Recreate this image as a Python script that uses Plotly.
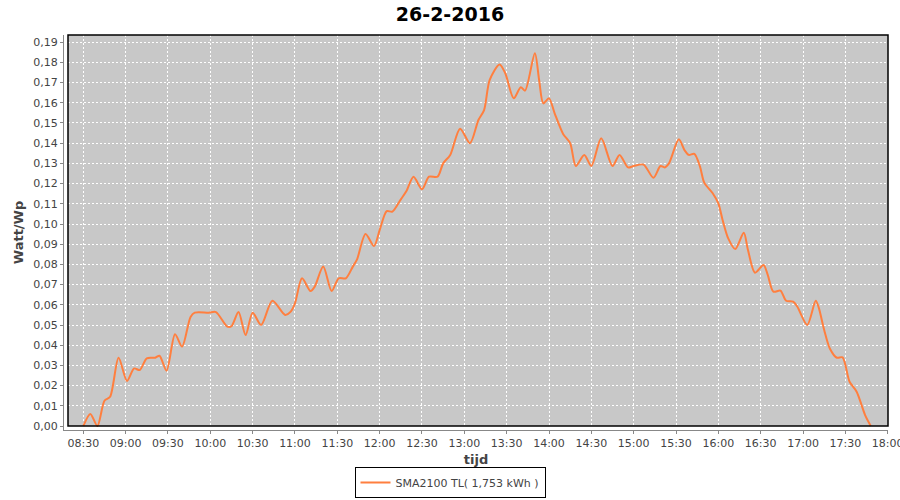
import plotly.graph_objects as go

DATE = "2016-02-26"
times = ["08:30", "08:35", "08:40", "08:45", "08:49", "08:55", "09:01", "09:06", "09:10", "09:15",
         "09:21", "09:24", "09:29", "09:35", "09:40", "09:46", "09:49", "09:59", "10:04", "10:12",
         "10:15", "10:20", "10:25", "10:30", "10:36", "10:44", "10:53", "10:57", "11:00", "11:05",
         "11:11", "11:14", "11:20", "11:26", "11:31", "11:36", "11:41", "11:44", "11:50", "11:56",
         "12:00", "12:05", "12:09", "12:15", "12:19", "12:24", "12:30", "12:35", "12:41", "12:45",
         "12:50", "12:57", "13:04", "13:10", "13:14", "13:18", "13:25", "13:29", "13:35", "13:40",
         "13:43", "13:50", "13:53", "13:56", "14:00", "14:04", "14:10", "14:15", "14:19", "14:25",
         "14:30", "14:37", "14:45", "14:50", "14:56", "15:00", "15:07", "15:14", "15:19", "15:22",
         "15:25", "15:32", "15:36", "15:39", "15:43", "15:47", "15:50", "15:56", "16:00", "16:03",
         "16:07", "16:12", "16:18", "16:21", "16:26", "16:32", "16:35", "16:39", "16:44", "16:48",
         "16:53", "16:56", "17:03", "17:09", "17:11", "17:15", "17:19", "17:24", "17:28", "17:33",
         "17:38", "17:44", "17:48"]
values = [0.000, 0.006, 0.000, 0.0125, 0.0145, 0.0338, 0.0223, 0.0285, 0.0277, 0.0335,
          0.0338, 0.0348, 0.0274, 0.0454, 0.0393, 0.054, 0.0561, 0.0561, 0.0564, 0.0492,
          0.0494, 0.0564, 0.045, 0.0561, 0.050, 0.062, 0.055, 0.0566, 0.0607, 0.0731,
          0.0668, 0.069, 0.0789, 0.0668, 0.0731, 0.0731, 0.0789, 0.0825, 0.095, 0.0891,
          0.097, 0.1064, 0.1061, 0.1122, 0.1163, 0.1234, 0.1172, 0.1234, 0.1234, 0.130,
          0.1342, 0.1472, 0.140, 0.1515, 0.1564, 0.1713, 0.179, 0.1746, 0.1622, 0.1677,
          0.166, 0.1845, 0.1713, 0.1597, 0.1622, 0.1548, 0.1446, 0.140, 0.1287, 0.1342,
          0.1287, 0.1424, 0.1287, 0.1342, 0.128, 0.1287, 0.1294, 0.1229, 0.1287, 0.128,
          0.130, 0.1419, 0.1366, 0.1342, 0.1347, 0.1284, 0.1205, 0.1152, 0.1102, 0.102,
          0.0929, 0.0876, 0.0957, 0.0871, 0.0759, 0.0797, 0.0748, 0.0665, 0.067, 0.062,
          0.0616, 0.059, 0.050, 0.062, 0.059, 0.0475, 0.0384, 0.0338, 0.034, 0.0219,
          0.017, 0.0054, 0.000]

title_text = "26-2-2016"
series_name = "SMA2100 TL( 1,753 kWh )"
x_title = "tijd"
y_title = "Watt/Wp"

x = [f"{DATE} {t}:00" for t in times]

fig = go.Figure()
fig.add_trace(go.Scatter(
    x=x, y=values, mode="lines", name=series_name,
    line=dict(color="#FF7F3F", width=2, shape="spline", smoothing=0.8),
))

W, H = 900, 500
ml, mr, mt, mb = 64, 12, 35, 70
pw, ph = W - ml - mr, H - mt - mb
gap = 4

tickfont = dict(family="DejaVu Sans", size=11, color="#444444")

fig.update_layout(
    width=W, height=H,
    margin=dict(l=ml, r=mr, t=mt, b=mb, autoexpand=False),
    paper_bgcolor="white", plot_bgcolor="white",
    separators=",.",
    showlegend=True,
    title=dict(text=f"<b>{title_text}</b>", x=0.5, xanchor="center", y=0.972, yanchor="middle",
               font=dict(family="DejaVu Sans", size=19, color="black")),
    legend=dict(orientation="h", x=(450 - ml) / pw, xanchor="center",
                yref="container", y=1 - 498 / H, yanchor="bottom",
                bordercolor="black", borderwidth=1, bgcolor="white",
                font=dict(family="DejaVu Sans", size=11, color="#444444"),
                itemwidth=30),
    xaxis=dict(
        type="date", automargin=False,
        range=[f"{DATE} 08:16:20", f"{DATE} 18:00:13"],
        tick0=f"{DATE} 08:30:00", dtick=30 * 60 * 1000, tickformat="%H:%M",
        ticklabeloverflow="allow",
        showgrid=True, gridcolor="white", griddash="2px,2px", gridwidth=1,
        showline=True, linecolor="#888888", linewidth=1,
        ticks="outside", ticklen=3, tickcolor="#888888",
        tickfont=tickfont, zeroline=False,
        title=dict(text=f"<b>{x_title}</b>", standoff=8,
                   font=dict(family="DejaVu Sans", size=13, color="#444444")),
    ),
    yaxis=dict(
        automargin=False,
        range=[-0.00198, 0.19356],
        tick0=0, dtick=0.01, tickformat=".2f",
        ticklabeloverflow="allow",
        showgrid=True, gridcolor="white", griddash="2px,2px", gridwidth=1,
        showline=True, linecolor="#888888", linewidth=1,
        ticks="outside", ticklen=3, tickcolor="#888888",
        tickfont=tickfont, zeroline=False,
        title=dict(text=f"<b>{y_title}</b>", standoff=6,
                   font=dict(family="DejaVu Sans", size=13, color="#444444")),
    ),
    shapes=[
        dict(type="rect", xref="paper", yref="paper", layer="below",
             xsizemode="pixel", ysizemode="pixel", xanchor=0, yanchor=0,
             x0=gap, x1=pw, y0=gap, y1=ph,
             fillcolor="#C8C8C8", line=dict(width=0)),
        dict(type="rect", xref="paper", yref="paper", layer="above",
             xsizemode="pixel", ysizemode="pixel", xanchor=0, yanchor=0,
             x0=gap, x1=pw, y0=gap, y1=ph,
             fillcolor="rgba(0,0,0,0)", line=dict(color="black", width=1.5)),
    ],
)

fig.write_html("out.html", config={"displayModeBar": False},
               post_script="document.body.style.margin='0';document.body.style.overflow='hidden';")
